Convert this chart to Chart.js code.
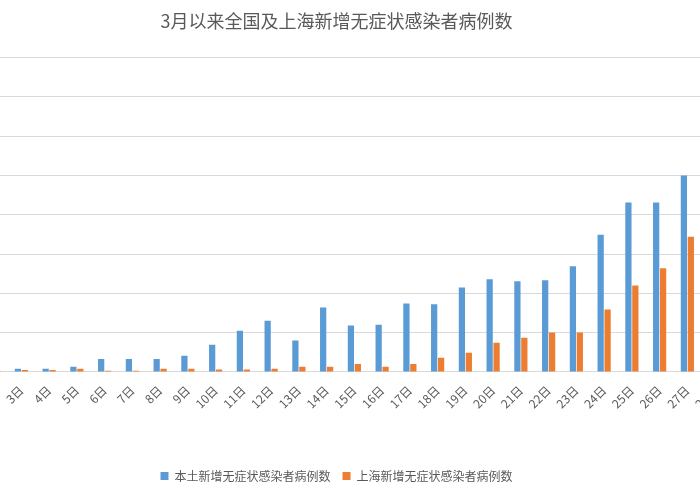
<!DOCTYPE html>
<html>
<head>
<meta charset="utf-8">
<script src="https://cdn.jsdelivr.net/npm/chart.js@4"></script>
<style>
  body { margin: 0; overflow: hidden; background: #fff; width: 700px; height: 500px; }
  #wrap { position: absolute; left: -56px; top: 0; width: 812px; height: 500px; }
</style>
</head>
<body>
<div id="wrap"><canvas id="myChart"></canvas></div>
<script>
// Data
const days = ['1日','2日','3日','4日','5日','6日','7日','8日','9日','10日','11日','12日','13日','14日',
  '15日','16日','17日','18日','19日','20日','21日','22日','23日','24日','25日','26日','27日','28日'];
const nationalCases = [60, 70, 80, 80, 130, 330, 330, 330, 410, 690, 1050, 1300, 800, 1640,
  1180, 1200, 1740, 1720, 2150, 2360, 2310, 2330, 2690, 3490, 4310, 4310, 5000, 5600];
const shanghaiCases = [30, 40, 50, 50, 80, 30, 30, 80, 80, 60, 60, 80, 130, 130,
  200, 130, 200, 360, 490, 740, 870, 1000, 1000, 1590, 2200, 2640, 3440, 3900];

const ctx = document.getElementById('myChart').getContext('2d');
const font = "'Noto Sans CJK SC', 'Noto Sans', sans-serif";

new Chart(ctx, {
  type: 'bar',
  data: {
    labels: days,
    datasets: [
      { label: '本土新增无症状感染者病例数', data: nationalCases, backgroundColor: '#5b9bd5' },
      { label: '上海新增无症状感染者病例数', data: shanghaiCases, backgroundColor: '#ed7d31' }
    ]
  },
  options: {
    responsive: true,
    maintainAspectRatio: false,
    animation: false,
    datasets: { bar: { categoryPercentage: 0.5, barPercentage: 0.9 } },
    layout: { padding: { left: 0, right: 27, top: 6, bottom: 8 } },
    scales: {
      x: {
        grid: { display: false },
        border: { color: '#d9d9d9' },
        ticks: { color: '#595959', font: { family: font, size: 12 }, maxRotation: 45, minRotation: 45, autoSkip: false },
        afterFit: function(scale) { scale.height += 44; }
      },
      y: {
        min: 0, max: 8000,
        ticks: { display: false, stepSize: 1000 },
        border: { display: false },
        grid: { color: '#d9d9d9' }
      }
    },
    plugins: {
      title: {
        display: true,
        text: '3月以来全国及上海新增无症状感染者病例数',
        color: '#595959',
        font: { family: font, size: 18, weight: 'normal' },
        padding: { top: 4, bottom: 26 }
      },
      legend: {
        position: 'bottom',
        labels: { color: '#595959', font: { family: font, size: 12 }, boxWidth: 8, boxHeight: 8, padding: 12 }
      },
      tooltip: { enabled: false }
    }
  }
});
</script>
</body>
</html>
